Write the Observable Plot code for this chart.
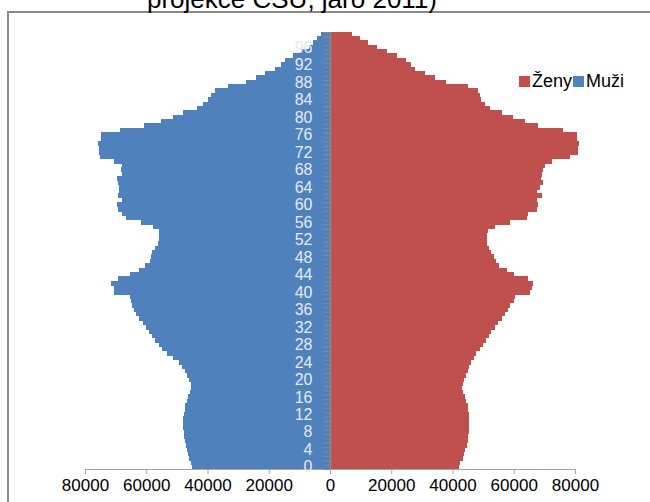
<!DOCTYPE html>
<html><head><meta charset="utf-8">
<script src="https://cdn.jsdelivr.net/npm/d3@7"></script>
<script src="https://cdn.jsdelivr.net/npm/@observablehq/plot@0.6"></script>
<style>
html,body{margin:0;padding:0;background:#fff;overflow:hidden;width:650px;height:502px}
#wrap{position:relative;width:650px;height:502px;overflow:hidden;font-family:"Liberation Sans",Arial,sans-serif}
#frame{position:absolute;left:7px;top:11px;width:700px;height:600px;border-left:2px solid #8a8a8a;border-top:2px solid #8a8a8a}
#title{position:absolute;left:147px;top:-14px;font-size:26px;line-height:26px;color:#000;white-space:nowrap}
#legend{position:absolute;left:518px;top:71px;font-size:18px;line-height:20px;color:#000;white-space:nowrap}
.sw{display:inline-block;width:11px;height:11px;margin-right:2px;margin-left:1px}
#chart{position:absolute;left:0;top:0}
</style></head><body><div id="wrap"><div id="frame"></div><div id="title"></div><div id="chart"></div><div id="legend"></div></div>
<script>
// Ages 0..99 (one bar per year of age)
const ages = [0,1,2,3,4,5,6,7,8,9,10,11,12,13,14,15,16,17,18,19,20,21,22,23,24,25,26,27,28,29,30,31,32,33,34,35,36,37,38,39,40,41,42,43,44,45,46,47,48,49,50,51,52,53,54,55,56,57,58,59,60,61,62,63,64,65,66,67,68,69,70,71,72,73,74,75,76,77,78,79,80,81,82,83,84,85,86,87,88,89,90,91,92,93,94,95,96,97,98,99];
const men = [44900,45300,45970,46300,46600,47060,47400,47600,47800,47900,47900,47900,47700,47500,47300,46800,46300,45650,45400,45500,46000,46600,47500,48400,49400,51400,53100,54700,55800,57100,58200,59100,60100,61200,62300,63200,64000,64500,65000,65400,70500,70500,71600,69100,65300,62300,60400,58800,58500,58000,57100,56300,55800,55900,55800,57800,61800,66500,67800,69100,69400,67800,69100,69000,69000,69100,69400,68000,68300,68000,70500,75200,75300,75500,75800,74850,74850,68650,60600,55100,51200,47900,43450,41600,40000,38800,37450,33400,27400,24150,21200,17800,16000,14650,12200,9400,6700,5600,4200,2900];
const women = [42000,42600,43300,43800,44200,44600,45000,45200,45400,45500,45500,45500,45300,45100,44900,44500,44000,43400,43200,43300,43700,44300,45100,45500,46200,46960,47830,48920,50000,51100,51970,52730,53820,54920,56010,57100,58190,58730,60040,60370,65280,65820,66370,64730,60040,57640,55240,54150,53490,52730,51970,51400,51400,51400,51640,53820,58730,64400,64740,67680,68000,67460,69100,67680,68550,69430,68900,69100,69650,70190,72400,78500,80900,81100,81200,80800,80560,76190,68010,63650,59830,56010,52190,50550,49460,48900,48400,45100,38010,34190,30920,27650,26560,24920,21980,18590,15430,12380,9890,7140];
const labelAges = [0,4,8,12,16,20,24,28,32,36,40,44,48,52,56,60,64,68,72,76,80,84,88,92,96];
const xTicks = [-80000,-60000,-40000,-20000,0,20000,40000,60000,80000];
const seriesNames = ["Ženy","Muži"];
const seriesColors = ["#C0504D","#4F81BD"];
const titleText = "projekce ČSÚ, jaro 2011)";

const rows = [];
ages.forEach((a,i)=>{
  rows.push({age:a, sex:"Muži", v:-men[i]});
  rows.push({age:a, sex:"Ženy", v:women[i]});
});
const boundaries = ages.concat([ages.length]);

const plot = Plot.plot({
  width:650, height:502,
  marginLeft:85, marginRight:75, marginTop:32, marginBottom:33,
  x:{domain:[-80000,80000]},
  y:{domain:[0,100], axis:null},
  color:{domain:seriesNames, range:seriesColors},
  style:{fontFamily:"'Liberation Sans', Arial, sans-serif", background:"transparent", overflow:"visible"},
  marks:[
    Plot.rectX(rows,{x1:0, x2:"v", y1:"age", y2:d=>d.age+1, fill:"sex", insetTop:-0.4, insetBottom:-0.4, shapeRendering:"crispEdges"}),
    Plot.ruleY([0],{stroke:"#a6a6a6", strokeWidth:1.2}),
    Plot.axisX({ticks:xTicks, tickFormat:d=>String(Math.abs(d)), tickSize:5, tickPadding:4, fontSize:17, stroke:"#a6a6a6", fill:"#000", label:null}),
    Plot.ruleX([0],{y1:0, y2:100, stroke:"#868686", strokeWidth:1.5}),
    Plot.ruleY(boundaries,{y:d=>d, x1:-2200, x2:0, stroke:"#8a8a8a"}),
    Plot.text(labelAges,{x:0, y:d=>d+0.5, text:d=>String(d), textAnchor:"end", dx:-18, fill:"#e4eaf4", fontSize:16})
  ]
});
document.getElementById("chart").appendChild(plot);
document.getElementById("title").textContent = titleText;
const lg = document.getElementById("legend");
seriesNames.forEach((n,i)=>{
  const s = document.createElement("span"); s.className="sw"; s.style.background=seriesColors[i]; lg.appendChild(s);
  const t = document.createElement("span"); t.textContent = n; lg.appendChild(t);
});
</script></body></html>
